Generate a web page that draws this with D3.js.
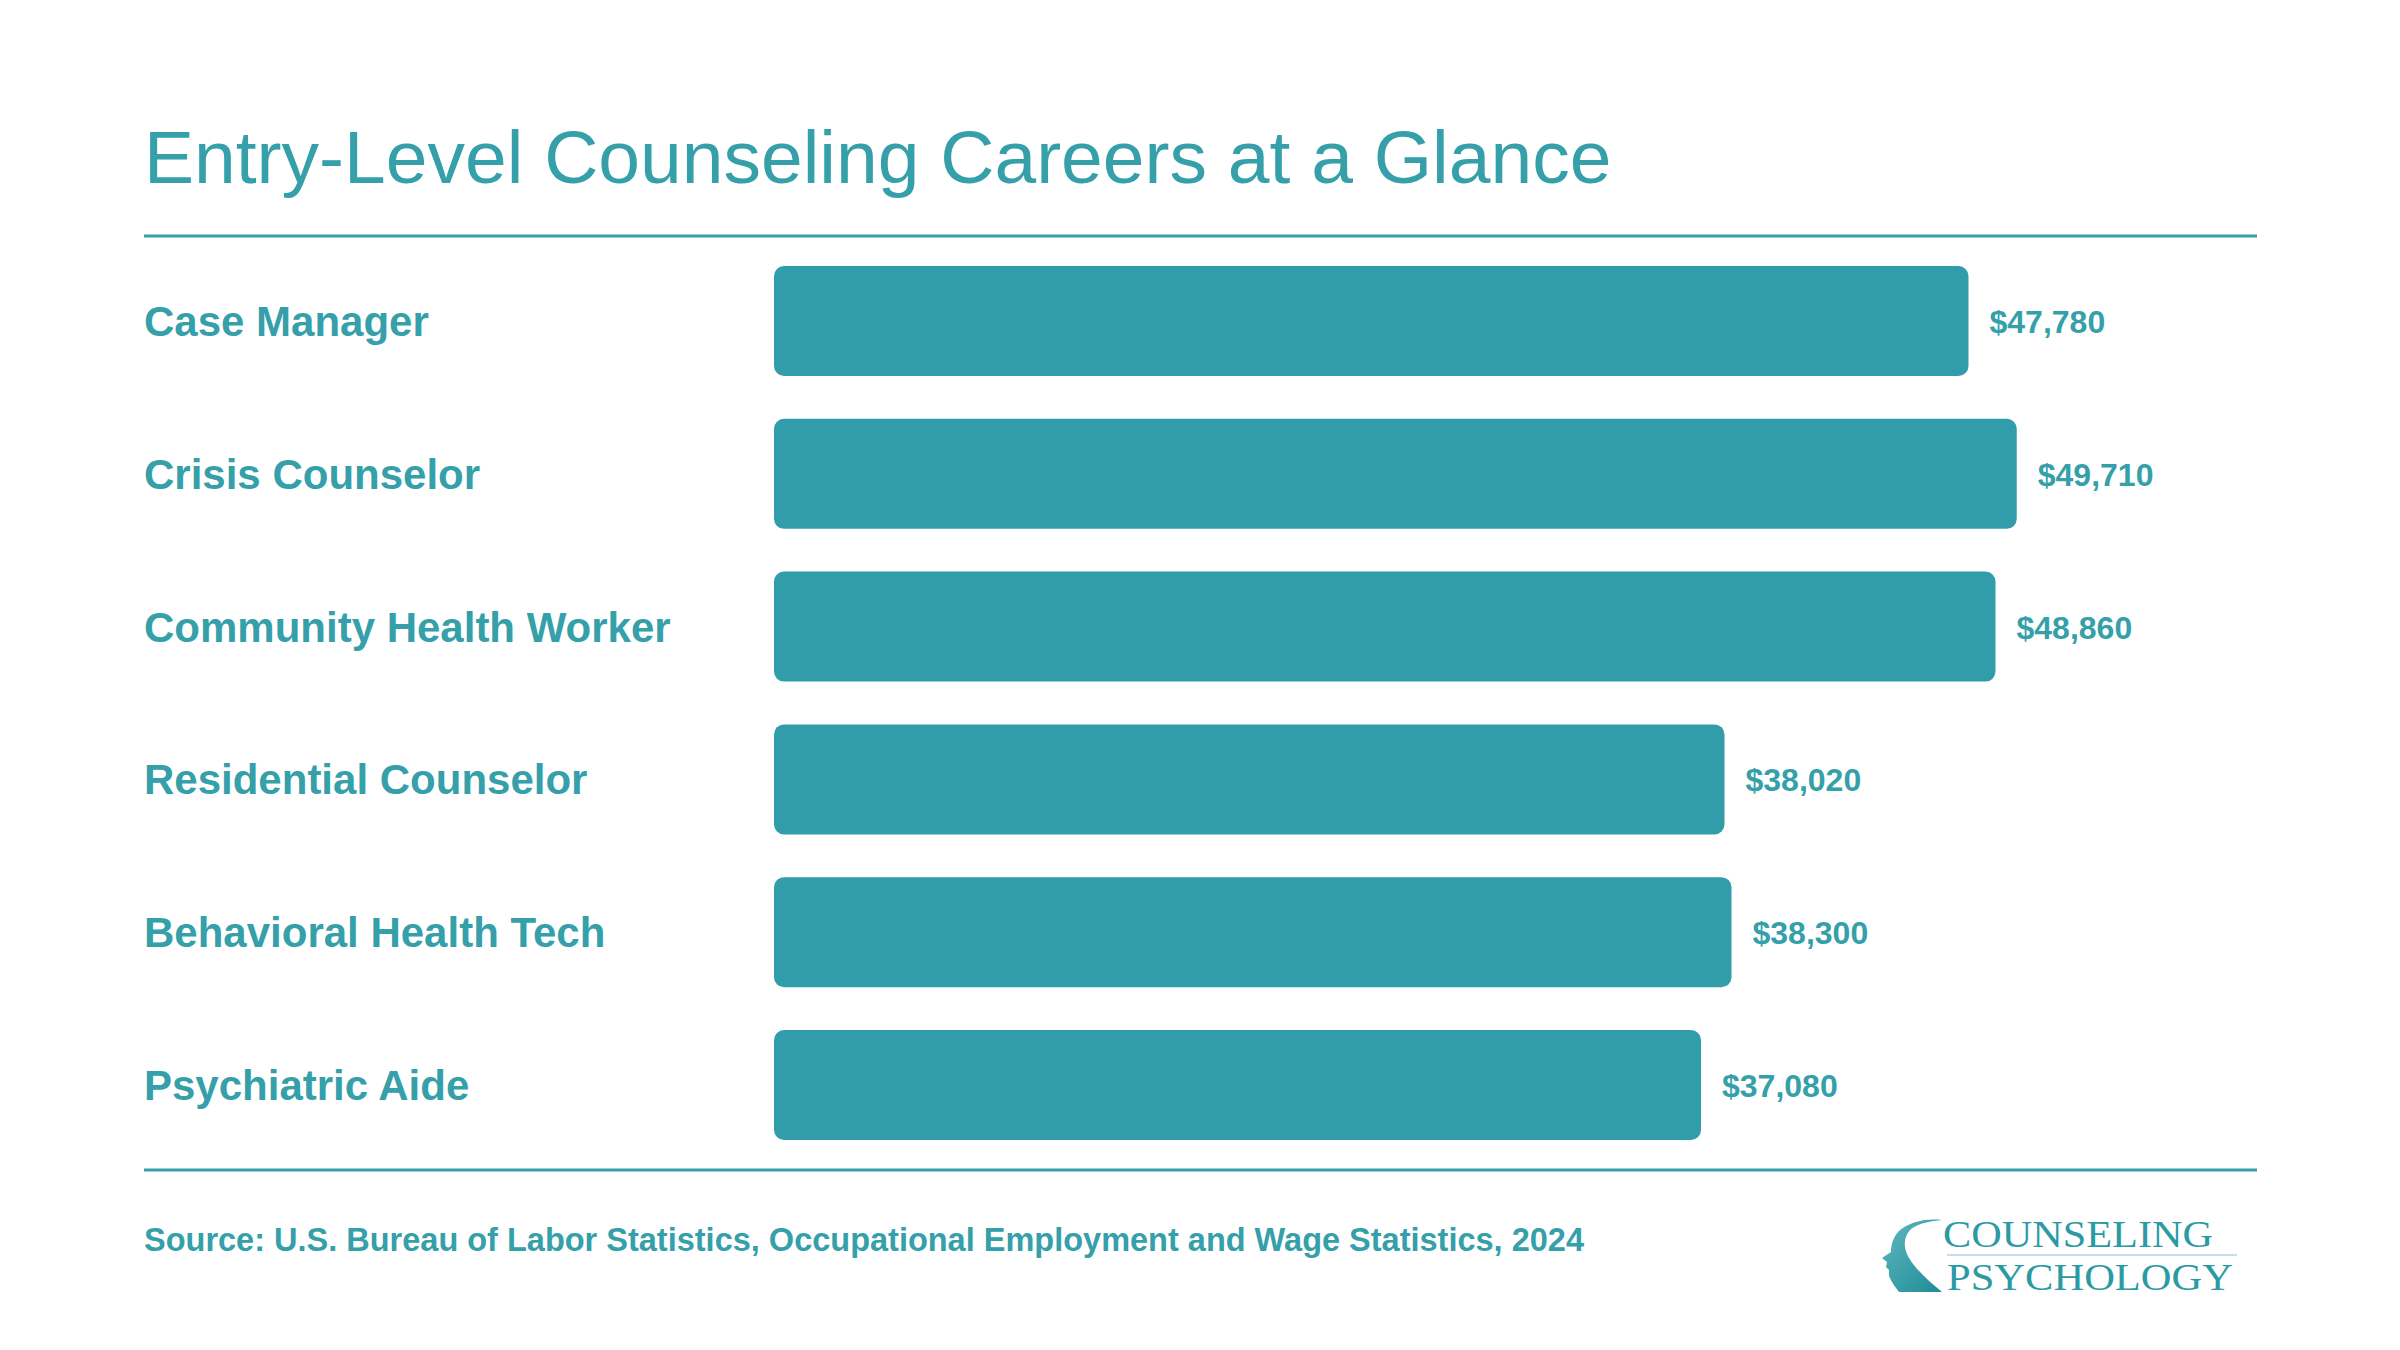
<!DOCTYPE html>
<html>
<head>
<meta charset="utf-8">
<script src="https://cdn.jsdelivr.net/npm/d3@7"></script>
<style>
  html, body { margin: 0; padding: 0; background: #fff; }
  svg { display: block; font-family: "Liberation Sans", Arial, Helvetica, sans-serif; }
</style>
</head>
<body>
<svg id="chart"></svg>
<script>
"use strict";

// ---------- data ----------
const careers = [
  "Case Manager",
  "Crisis Counselor",
  "Community Health Worker",
  "Residential Counselor",
  "Behavioral Health Tech",
  "Psychiatric Aide"
];
const salaries = [47780, 49710, 48860, 38020, 38300, 37080];

const titleText = "Entry-Level Counseling Careers at a Glance";
const sourceText = "Source: U.S. Bureau of Labor Statistics, Occupational Employment and Wage Statistics, 2024";

// ---------- setup ----------
const W = 2400, H = 1350;
const teal = "#359faa";
const barTeal = "#319dab";
const left = 144, right = 2257;

const svg = d3.select("#chart").attr("width", W).attr("height", H);
svg.append("rect").attr("width", W).attr("height", H).attr("fill", "#fff");

// title
svg.append("text")
  .attr("x", left).attr("y", 183)
  .attr("fill", teal)
  .style("font-size", "75px")
  .text(titleText);

// rules
[236, 1170].forEach(y => {
  svg.append("line")
    .attr("x1", left).attr("x2", right)
    .attr("y1", y).attr("y2", y)
    .attr("stroke", teal).attr("stroke-width", 3);
});

// ---------- scales ----------
const y = d3.scaleBand()
  .domain(careers)
  .range([244.6, 1161.4])
  .paddingInner(0.28)
  .paddingOuter(0.14);

const x = d3.scaleLinear().domain([0, 60000]).range([774, 2274]);
const fmt = d3.format("$,");

const rows = careers.map((c, i) => ({ name: c, value: salaries[i] }));

// bars
svg.selectAll("rect.bar")
  .data(rows)
  .enter()
  .append("rect")
  .attr("class", "bar")
  .attr("x", x(0))
  .attr("y", d => y(d.name))
  .attr("width", d => x(d.value) - x(0))
  .attr("height", y.bandwidth())
  .attr("rx", 10)
  .attr("fill", barTeal);

// category labels
svg.selectAll("text.cat")
  .data(rows)
  .enter()
  .append("text")
  .attr("class", "cat")
  .attr("x", left)
  .attr("y", d => y(d.name) + y.bandwidth() / 2 + 15)
  .attr("fill", teal)
  .style("font-size", "42px")
  .style("font-weight", "700")
  .text(d => d.name);

// value labels
svg.selectAll("text.val")
  .data(rows)
  .enter()
  .append("text")
  .attr("class", "val")
  .attr("x", d => x(d.value) + 21)
  .attr("y", d => y(d.name) + y.bandwidth() / 2 + 12)
  .attr("fill", teal)
  .style("font-size", "32px")
  .style("font-weight", "700")
  .text(d => fmt(d.value));

// source
svg.append("text")
  .attr("x", left).attr("y", 1251)
  .attr("fill", teal)
  .style("font-size", "32.5px")
  .style("font-weight", "700")
  .text(sourceText);

// ---------- logo ----------
const defs = svg.append("defs");
const grad = defs.append("linearGradient")
  .attr("id", "headGrad")
  .attr("x1", "0%").attr("y1", "0%").attr("x2", "100%").attr("y2", "100%");
grad.append("stop").attr("offset", "0%").attr("stop-color", "#5fb8bf");
grad.append("stop").attr("offset", "100%").attr("stop-color", "#1f8c96");

const logo = svg.append("g");
logo.append("path")
  .attr("d", "M1942,1220 C1924,1218 1907,1223 1898,1232 C1892,1239 1891,1247 1891,1252 " +
             "L1882,1258 L1887,1262 L1886,1267 L1889,1270 L1889,1276 " +
             "C1892,1283 1896,1288 1899,1292 L1942,1292 " +
             "C1930,1282 1917,1271 1909,1258 C1903,1248 1903,1237 1911,1229 " +
             "C1919,1223 1931,1221 1942,1220 Z")
  .attr("fill", "url(#headGrad)");

logo.append("text")
  .attr("x", 1943).attr("y", 1247)
  .attr("textLength", 270)
  .attr("lengthAdjust", "spacingAndGlyphs")
  .attr("fill", "#2a9aa3")
  .style("font-family", "'Liberation Serif', 'Times New Roman', serif")
  .style("font-size", "38px")
  .text("COUNSELING");

logo.append("line")
  .attr("x1", 1947).attr("x2", 2237)
  .attr("y1", 1255).attr("y2", 1255)
  .attr("stroke", "#a9d8dc").attr("stroke-width", 1.5);

logo.append("text")
  .attr("x", 1947).attr("y", 1290)
  .attr("textLength", 286)
  .attr("lengthAdjust", "spacingAndGlyphs")
  .attr("fill", "#2a9aa3")
  .style("font-family", "'Liberation Serif', 'Times New Roman', serif")
  .style("font-size", "38px")
  .text("PSYCHOLOGY");
</script>
</body>
</html>
